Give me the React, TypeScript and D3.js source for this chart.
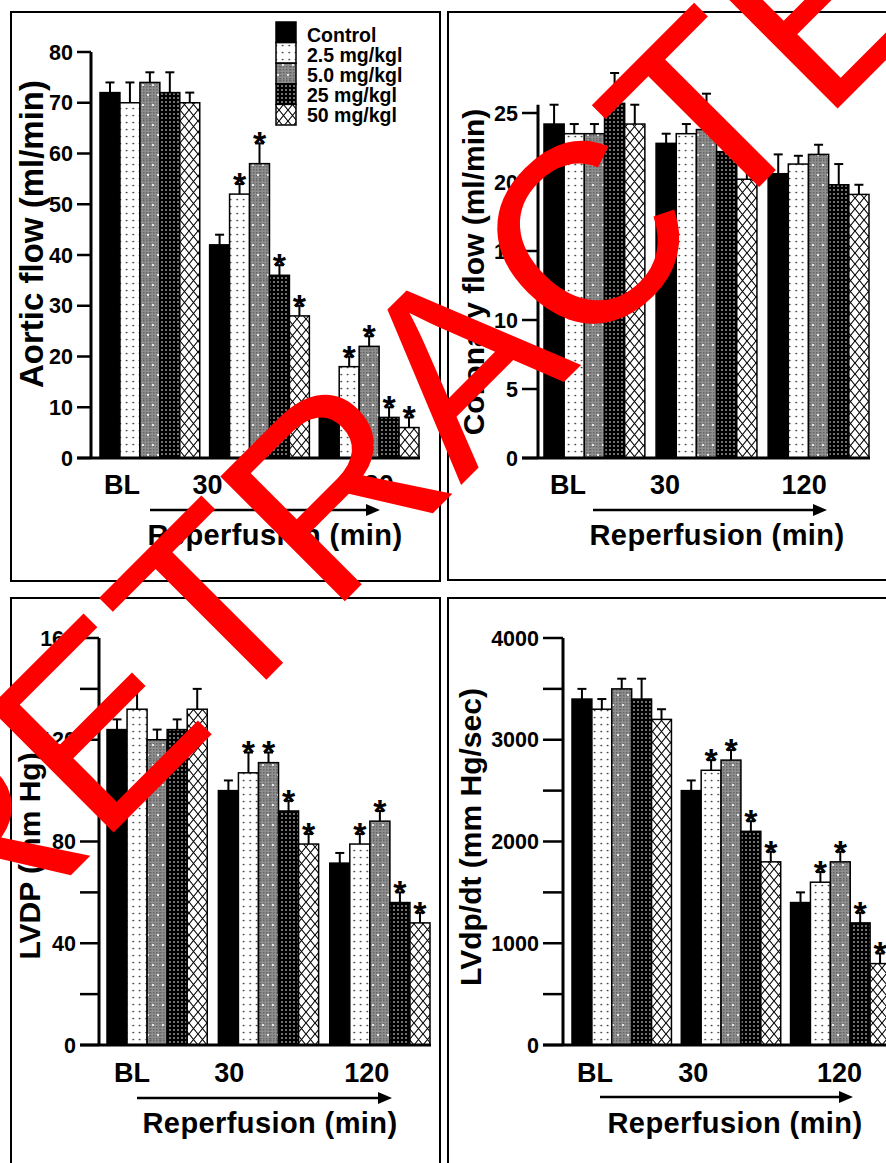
import * as d3 from "d3";

const groups = ["BL", "30", "120"];
const series = ["Control", "2.5 mg/kgl", "5.0 mg/kgl", "25 mg/kgl", "50 mg/kgl"];
const fills = ["#000", "url(#pDots)", "url(#pGray)", "url(#pDark)", "url(#pCross)"];

// aortic flow (ml/min)
const aorticMean = [[72, 70, 74, 72, 70], [42, 52, 58, 36, 28], [8.5, 18, 22, 8, 6]];
const aorticErr = [[2, 4, 2, 4, 2], [2, 2, 4, 2, 2], [2, 2, 2, 2, 2]];
const aorticSig = [[0, 0, 0, 0, 0], [0, 1, 1, 1, 1], [0, 1, 1, 1, 1]];
const aorticTicks = [0, 10, 20, 30, 40, 50, 60, 70, 80];
const aorticLabels = [0, 10, 20, 30, 40, 50, 60, 70, 80];

// coronary flow (ml/min)
const coronaryMean = [[24.2, 23.5, 23.5, 25.7, 24.2], [22.8, 23.5, 23.8, 22.2, 20.2], [20.6, 21.3, 22, 19.8, 19.1]];
const coronaryErr = [[1.4, 0.7, 0.7, 2.2, 1.4], [0.7, 0.7, 2.6, 1, 1], [1.4, 0.6, 0.7, 1.5, 0.7]];
const coronarySig = [[0, 0, 0, 0, 0], [0, 0, 0, 0, 0], [0, 0, 0, 0, 0]];
const coronaryTicks = [0, 5, 10, 15, 20, 25];
const coronaryLabels = [0, 5, 10, 15, 20, 25];

// LVDP (mm Hg)
const lvdpMean = [[124, 132, 120, 124, 132], [100, 107, 111, 92, 79], [71.5, 79, 88, 56, 48]];
const lvdpErr = [[4, 8, 4, 4, 8], [4, 8, 4, 4, 4], [4, 4, 4, 4, 4]];
const lvdpSig = [[0, 0, 0, 0, 0], [0, 1, 1, 1, 1], [0, 1, 1, 1, 1]];
const lvdpTicks = [0, 20, 40, 60, 80, 100, 120, 140, 160];
const lvdpLabels = [0, 40, 80, 120, 160];

// LVdp/dt (mm Hg/sec)
const lvdtMean = [[3400, 3300, 3500, 3400, 3200], [2500, 2700, 2800, 2100, 1800], [1400, 1600, 1800, 1200, 800]];
const lvdtErr = [[100, 100, 100, 200, 100], [100, 100, 100, 100, 100], [100, 100, 100, 100, 100]];
const lvdtSig = [[0, 0, 0, 0, 0], [0, 1, 1, 1, 1], [0, 1, 1, 1, 1]];
const lvdtTicks = [0, 500, 1000, 1500, 2000, 2500, 3000, 3500, 4000];
const lvdtLabels = [0, 1000, 2000, 3000, 4000];

const FONT = "'Liberation Sans', Arial, Helvetica, sans-serif";

const panels = [
  {
    title: "Aortic flow (ml/min)", mean: aorticMean, err: aorticErr, sig: aorticSig,
    ticks: aorticTicks, labels: aorticLabels, max: 80, axisTop: 80,
    frame: [11, 12, 429, 569], axisX: 91, y0: 458, yTop: 52, tickLen: 14,
    barsX: [100, 419], pad: 0.09, xOff: [22, -2, 52], xBase: 494,
    arrow: [150, 380, 510], reperf: [275, 545], titlePos: [43, 234], titleSize: 33, legend: true,
  },
  {
    title: "Coronary flow (ml/min)", mean: coronaryMean, err: coronaryErr, sig: coronarySig,
    ticks: coronaryTicks, labels: coronaryLabels, max: 25, axisTop: 25.6,
    frame: [448, 12, 460, 568], axisX: 538, y0: 458, yTop: 113, tickLen: 16,
    barsX: [544, 869], pad: 0.1, xOff: [24, 9, 36], xBase: 494,
    arrow: [593, 827, 510], reperf: [717, 545], titlePos: [484, 272], titleSize: 30, legend: false,
  },
  {
    title: "LVDP (mm Hg)", mean: lvdpMean, err: lvdpErr, sig: lvdpSig,
    ticks: lvdpTicks, labels: lvdpLabels, max: 160, axisTop: 160,
    frame: [11, 598, 429, 600], axisX: 99, y0: 1045, yTop: 638, tickLen: 19,
    barsX: [107, 430], pad: 0.1, xOff: [25, 11, 37], xBase: 1082,
    arrow: [137, 392, 1098], reperf: [270, 1133], titlePos: [40, 856], titleSize: 30, legend: false,
  },
  {
    title: "LVdp/dt (mm Hg/sec)", mean: lvdtMean, err: lvdtErr, sig: lvdtSig,
    ticks: lvdtTicks, labels: lvdtLabels, max: 4000, axisTop: 4000,
    frame: [448, 598, 460, 600], axisX: 563, y0: 1045, yTop: 638, tickLen: 20,
    barsX: [572, 890], pad: 0.09, xOff: [23, 12, 49], xBase: 1082,
    arrow: [600, 853, 1097], reperf: [735, 1133], titlePos: [481, 837], titleSize: 30, legend: false,
  },
];

function Panel({ p }) {
  const y = d3.scaleLinear().domain([0, p.max]).range([p.y0, p.yTop]);
  const gx = d3.scaleBand().domain(groups).range(p.barsX).paddingInner(p.pad);
  const sx = d3.scaleBand().domain(series).range([0, gx.bandwidth()]);
  const [fx, fy, fw, fh] = p.frame;
  const [a1, a2, ay] = p.arrow;
  return (
    <g>
      <rect x={fx} y={fy} width={fw} height={fh} fill="none" stroke="#000" strokeWidth={2} />
      {groups.map((g, gi) =>
        series.map((s, si) => {
          const x = gx(g) + sx(s);
          const w = sx.bandwidth();
          const cx = x + w / 2;
          const v = p.mean[gi][si];
          const top = y(v + p.err[gi][si]);
          return (
            <g key={g + s}>
              <line x1={cx} x2={cx} y1={y(v)} y2={top} stroke="#000" strokeWidth={2} />
              <line x1={cx - 4.5} x2={cx + 4.5} y1={top} y2={top} stroke="#000" strokeWidth={2} />
              <rect x={x} y={y(v)} width={w} height={y(0) - y(v)} fill={fills[si]} stroke="#000" strokeWidth={1.5} />
              {p.sig[gi][si] ? (
                <text x={cx} y={top + 12} textAnchor="middle" fontSize={34} fontWeight="bold">*</text>
              ) : null}
            </g>
          );
        })
      )}
      <line x1={p.axisX} x2={p.axisX} y1={y(0)} y2={y(p.axisTop)} stroke="#000" strokeWidth={3} />
      <line x1={p.axisX - p.tickLen} x2={p.barsX[1] + 1} y1={y(0)} y2={y(0)} stroke="#000" strokeWidth={3} />
      {p.ticks.map((t) => (
        <line key={t} x1={p.axisX - p.tickLen} x2={p.axisX} y1={y(t)} y2={y(t)} stroke="#000" strokeWidth={2.5} />
      ))}
      {p.labels.map((t) => (
        <text key={t} x={p.axisX - p.tickLen - 4} y={y(t) + 7.5} textAnchor="end" fontSize={21.5} fontWeight="bold">
          {t}
        </text>
      ))}
      {groups.map((g, gi) => (
        <text key={g} x={gx(g) + p.xOff[gi]} y={p.xBase} textAnchor="middle" fontSize={27} fontWeight="bold">
          {g}
        </text>
      ))}
      <line x1={a1} x2={a2 - 10} y1={ay} y2={ay} stroke="#000" strokeWidth={2.5} />
      <path d={`M${a2},${ay}L${a2 - 14},${ay - 6}L${a2 - 14},${ay + 6}Z`} fill="#000" />
      <text x={p.reperf[0]} y={p.reperf[1]} textAnchor="middle" fontSize={29} fontWeight="bold" letterSpacing={0.4}>
        Reperfusion (min)
      </text>
      <text
        transform={`translate(${p.titlePos[0]},${p.titlePos[1]}) rotate(-90)`}
        textAnchor="middle" fontSize={p.titleSize} fontWeight="bold"
      >
        {p.title}
      </text>
      {p.legend &&
        series.map((s, si) => (
          <g key={s}>
            <rect x={276} y={22 + si * 20.6} width={20} height={20.6} fill={fills[si]} stroke="#000" strokeWidth={1.5} />
            <text x={307} y={42 + si * 20} fontSize={19.5} fontWeight="bold">{s}</text>
          </g>
        ))}
    </g>
  );
}

export default function App() {
  return (
    <svg
      width={886}
      height={1163}
      style={{ position: "absolute", left: 0, top: 0, background: "#fff" }}
      fontFamily={FONT}
    >
      <defs>
        <pattern id="pDots" width={6.5} height={7} patternUnits="userSpaceOnUse">
          <rect width={6.5} height={7} fill="#fff" />
          <circle cx={3.2} cy={3.5} r={0.85} fill="#222" />
        </pattern>
        <pattern id="pGrayTex" width={3} height={3} patternUnits="userSpaceOnUse">
          <rect width={3} height={3} fill="#8e8e8e" />
          <rect width={1.5} height={1.5} fill="#666" />
        </pattern>
        <pattern id="pGray" width={10} height={20} patternUnits="userSpaceOnUse">
          <rect width={10} height={20} fill="url(#pGrayTex)" />
          <circle cx={3} cy={5} r={1.1} fill="#fff" />
          <circle cx={8} cy={15} r={1.1} fill="#fff" />
        </pattern>
        <pattern id="pDark" width={4} height={4} patternUnits="userSpaceOnUse">
          <rect width={4} height={4} fill="#000" />
          <circle cx={2} cy={2} r={0.8} fill="#fff" />
        </pattern>
        <pattern id="pCross" width={9} height={11} patternUnits="userSpaceOnUse">
          <rect width={9} height={11} fill="#fff" />
          <path d="M0,0L9,11M9,0L0,11" stroke="#000" strokeWidth={1.1} />
        </pattern>
      </defs>
      <rect width={886} height={1163} fill="#fff" />
      {panels.map((p) => (
        <Panel key={p.title} p={p} />
      ))}
      <text
        x={-32}
        y={978}
        transform="rotate(-45 -32 978)"
        fontSize={256}
        fill="#ff0000"
        fontFamily={FONT}
      >
        RETRACTED
      </text>
    </svg>
  );
}
